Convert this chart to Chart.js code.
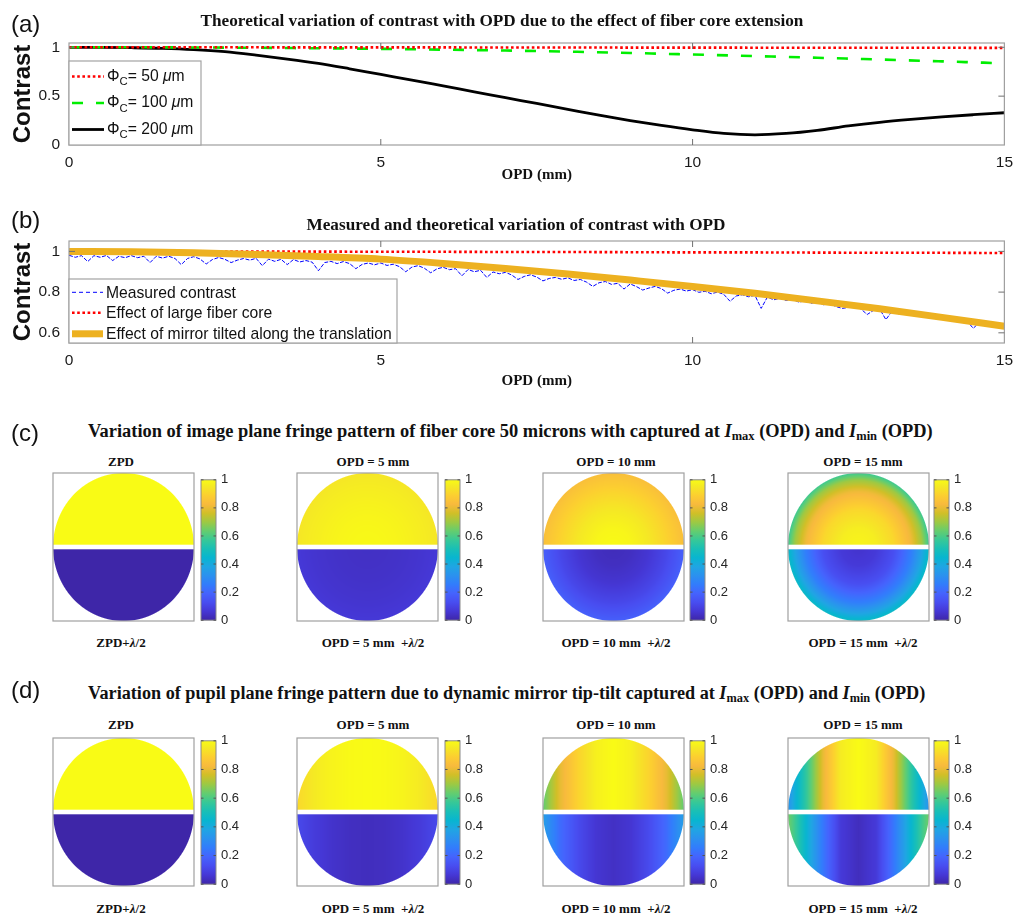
<!DOCTYPE html>
<html>
<head>
<meta charset="utf-8">
<title>Contrast variation with OPD</title>
<script src="https://cdn.jsdelivr.net/npm/chart.js@4.4.1/dist/chart.umd.min.js"></script>
<style>
  html, body { margin: 0; padding: 0; background: #fff; }
  #fig { position: relative; width: 1021px; height: 915px; overflow: hidden; background: #fff; }
  #fig canvas { position: absolute; }
  .tag { position: absolute; font-family: Arial, "Liberation Sans", sans-serif; font-size: 24px; line-height: 1; color: #111; transform: translateY(-50%); white-space: nowrap; }
  .ttl { position: absolute; font-family: "Liberation Serif", "Times New Roman", serif; font-weight: bold; line-height: 1; color: #111; white-space: nowrap; }
  .ttl.mid { transform: translate(-50%, -50%); }
  .ttl.lft { transform: translateY(-50%); }
  .ttl sub { font-size: 0.68em; vertical-align: -0.28em; line-height: 0; }
  .cap { position: absolute; font-family: "Liberation Serif", "Times New Roman", serif; font-weight: bold; font-size: 13px; line-height: 1; color: #111; white-space: nowrap; transform: translate(-50%, -50%); }
</style>
</head>
<body>
<div id="fig"></div>
<script>
// ---------------- (a) theoretical contrast vs OPD for three fiber cores ----------------
const opdFine   = [0,0.5,1,1.5,2,2.5,3,3.5,4,4.5,5,5.5,6,6.5,7,7.5,8,8.5,9,9.5,10,10.5,11,11.5,12,12.5,13,13.5,14,14.5,15];
const opdCoarse = [0,1,2,3,4,5,6,7,8,9,10,11,12,13,14,15];
const coreDiameters = [50, 100, 200];            // µm
const contrastCore50  = [1.000,1.000,1.000,1.000,0.999,0.999,0.999,0.998,0.998,0.997,0.997,0.996,0.996,0.995,0.995,0.994];
const contrastCore100 = [1.000,1.000,0.998,0.995,0.990,0.984,0.976,0.967,0.956,0.942,0.926,0.910,0.893,0.875,0.856,0.836];
const contrastCore200 = [1.000,0.999,0.996,0.990,0.977,0.955,0.920,0.880,0.835,0.780,0.722,0.665,0.605,0.545,0.485,0.425,
                         0.365,0.305,0.250,0.200,0.155,0.118,0.104,0.118,0.150,0.195,0.232,0.262,0.288,0.310,0.330];

// ---------------- (b) measured and modelled contrast ----------------
const contrastLargeCore  = [1.000,1.000,0.999,0.999,0.999,0.998,0.998,0.997,0.997,0.996,0.995,0.995,0.994,0.993,0.993,0.992];
const contrastMirrorTilt = [1.000,0.998,0.993,0.985,0.975,0.962,0.941,0.916,0.889,0.859,0.828,0.794,0.757,0.718,0.676,0.632];
const measuredStep = 0.1;                          // mm between samples
const measuredContrast = [
  0.981,0.971,0.979,0.950,0.979,0.971,0.980,0.955,0.976,0.969,
  0.979,0.969,0.976,0.945,0.976,0.967,0.976,0.965,0.935,0.965,
  0.974,0.963,0.938,0.960,0.970,0.961,0.945,0.957,0.965,0.957,
  0.966,0.930,0.962,0.951,0.961,0.935,0.960,0.948,0.955,0.947,
  0.905,0.945,0.951,0.940,0.950,0.940,0.915,0.936,0.943,0.934,
  0.943,0.931,0.937,0.925,0.900,0.923,0.930,0.917,0.895,0.914,
  0.922,0.910,0.915,0.880,0.911,0.900,0.907,0.872,0.899,0.890,
  0.897,0.884,0.862,0.877,0.885,0.874,0.855,0.867,0.872,0.863,
  0.870,0.857,0.862,0.849,0.828,0.846,0.852,0.838,0.843,0.815,
  0.840,0.827,0.810,0.820,0.828,0.817,0.795,0.809,0.815,0.805,
  0.812,0.799,0.804,0.792,0.800,0.789,0.755,0.781,0.787,0.777,
  0.784,0.720,0.776,0.762,0.770,0.759,0.765,0.751,0.756,0.745,
  0.752,0.738,0.743,0.729,0.720,0.725,0.731,0.717,0.690,0.710,
  0.717,0.665,0.707,0.693,0.700,0.688,0.693,0.678,0.682,0.671,
  0.677,0.663,0.666,0.652,0.659,0.622,0.651,0.636,0.640,0.628,
  0.626
];

// axis tick values
const opdTicks = [0, 5, 10, 15];
const contrastTicksA = [0, 0.5, 1];
const contrastTicksB = [0.6, 0.8, 1];
const colorbarTicks = [0, 0.2, 0.4, 0.6, 0.8, 1];

// ---------------- (c)/(d) fringe images ----------------
const opdSettings = ['ZPD', 'OPD = 5 mm', 'OPD = 10 mm', 'OPD = 15 mm'];
const profileKnots = [0, 0.25, 0.5, 0.75, 0.9, 1];  // radius (c) or |x| across the pupil (d)
// image plane: intensity vs radius, I_max half and I_min half
const imagePlaneMax = [
  [1, 1, 1, 1, 1, 1],
  [0.995, 0.99, 0.98, 0.965, 0.955, 0.945],
  [1.0, 0.985, 0.95, 0.90, 0.865, 0.84],
  [0.985, 0.965, 0.91, 0.81, 0.70, 0.58]
];
const imagePlaneMin = [
  [0, 0, 0, 0, 0, 0],
  [0.04, 0.042, 0.047, 0.055, 0.062, 0.068],
  [0.025, 0.035, 0.06, 0.11, 0.15, 0.18],
  [0.05, 0.07, 0.13, 0.26, 0.38, 0.47]
];
// pupil plane: intensity vs horizontal position
const pupilPlaneMax = [
  [1, 1, 1, 1, 1, 1],
  [1.0, 0.995, 0.98, 0.955, 0.93, 0.91],
  [1.0, 0.97, 0.90, 0.80, 0.70, 0.63],
  [1.0, 0.96, 0.80, 0.55, 0.42, 0.32]
];
const pupilPlaneMin = [
  [0, 0, 0, 0, 0, 0],
  [0.03, 0.035, 0.05, 0.075, 0.10, 0.115],
  [0.04, 0.06, 0.12, 0.21, 0.30, 0.36],
  [0.03, 0.07, 0.24, 0.45, 0.58, 0.65]
];

// parula colormap (subset of the 64-entry table)
const parulaIndex = [0, 4, 8, 12, 16, 20, 24, 28, 32, 36, 40, 44, 48, 52, 56, 60, 63];
const parulaRGB = [
  [62,38,168],[69,55,213],[72,77,240],[69,99,253],[50,124,252],[43,145,239],[32,165,227],[8,181,208],
  [25,191,182],[55,200,151],[100,205,111],[157,201,67],[209,191,39],[248,186,61],[252,207,48],[245,233,36],[249,251,21]
];

// ======================================================================
const FONT_SANS = 'Arial, "Liberation Sans", sans-serif';
const FONT_SERIF = '"Liberation Serif", "Times New Roman", serif';
Chart.defaults.font.family = FONT_SANS;
Chart.defaults.color = '#1a1a1a';
Chart.defaults.elements.point.radius = 0;

const fig = document.getElementById('fig');

function addCanvas(left, top, w, h) {
  const c = document.createElement('canvas');
  c.width = w; c.height = h;
  c.style.left = left + 'px'; c.style.top = top + 'px';
  c.style.width = w + 'px'; c.style.height = h + 'px';
  fig.appendChild(c);
  return c;
}
function addText(cls, html, x, y, size) {
  const d = document.createElement('div');
  d.className = cls;
  d.innerHTML = html;
  d.style.left = x + 'px';
  d.style.top = y + 'px';
  if (size) d.style.fontSize = size + 'px';
  fig.appendChild(d);
  return d;
}
const pairs = (xs, ys) => xs.map((x, i) => ({ x, y: ys[i] }));
const fixedTicks = values => scale => { scale.ticks = values.map(v => ({ value: v })); };
const tickText = v => String(v);
const clamp01 = v => Math.max(0, Math.min(1, v));

function parula(v) {
  v = clamp01(v);
  for (let i = 1; i < parulaIndex.length; i++) {
    const p0 = parulaIndex[i - 1] / 63, p1 = parulaIndex[i] / 63;
    if (v <= p1) {
      const t = (v - p0) / (p1 - p0);
      const a = parulaRGB[i - 1], b = parulaRGB[i];
      return [a[0] + (b[0] - a[0]) * t, a[1] + (b[1] - a[1]) * t, a[2] + (b[2] - a[2]) * t];
    }
  }
  return parulaRGB[parulaRGB.length - 1];
}
function profileAt(prof, s) {
  s = Math.min(Math.max(s, 0), 1);
  for (let i = 1; i < profileKnots.length; i++) {
    if (s <= profileKnots[i]) {
      const t = (s - profileKnots[i - 1]) / (profileKnots[i] - profileKnots[i - 1]);
      return prof[i - 1] + (prof[i] - prof[i - 1]) * t;
    }
  }
  return prof[prof.length - 1];
}

// rich text (sub-scripts / italics) for legend entries
function drawRich(ctx, parts, x, y, size) {
  ctx.save();
  ctx.fillStyle = '#111';
  ctx.textBaseline = 'alphabetic';
  const base = y + size * 0.36;
  parts.forEach(p => {
    const s = p.sub ? size * 0.72 : size;
    ctx.font = (p.italic ? 'italic ' : '') + s + 'px ' + FONT_SANS;
    ctx.fillText(p.t, x, base + (p.sub ? size * 0.3 : 0));
    x += ctx.measureText(p.t).width;
  });
  ctx.restore();
}
const coreLabel = d => [{ t: 'Φ' }, { t: 'C', sub: true }, { t: '= ' + d + ' ' }, { t: 'μ', italic: true }, { t: 'm' }];

// box around the plot area with inward tick marks
const axesBox = {
  id: 'axesBox',
  afterDatasetsDraw(chart) {
    const { ctx, chartArea: a, scales } = chart;
    ctx.save();
    ctx.strokeStyle = '#9f9f9f';
    ctx.lineWidth = 1.2;
    ctx.strokeRect(a.left, a.top, a.right - a.left, a.bottom - a.top);
    ctx.strokeStyle = '#707070';
    ctx.lineWidth = 1;
    ctx.beginPath();
    scales.x.ticks.forEach(t => {
      const p = scales.x.getPixelForValue(t.value);
      if (p <= a.left + 1 || p >= a.right - 1) return;
      ctx.moveTo(p, a.bottom); ctx.lineTo(p, a.bottom - 6);
      ctx.moveTo(p, a.top); ctx.lineTo(p, a.top + 6);
    });
    scales.y.ticks.forEach(t => {
      const p = scales.y.getPixelForValue(t.value);
      if (p <= a.top + 1 || p >= a.bottom - 1) return;
      ctx.moveTo(a.left, p); ctx.lineTo(a.left + 6, p);
      ctx.moveTo(a.right, p); ctx.lineTo(a.right - 6, p);
    });
    ctx.stroke();
    ctx.restore();
  }
};

function makeInsetLegend(cfg) {
  return {
    id: 'insetLegend',
    afterDraw(chart) {
      const { ctx, chartArea: a } = chart;
      const x0 = a.left, y0 = a.top + cfg.dy, h = a.bottom - y0;
      ctx.save();
      ctx.fillStyle = '#ffffff';
      ctx.fillRect(x0, y0, cfg.width, h);
      ctx.strokeStyle = '#a3a3a3';
      ctx.lineWidth = 1.2;
      ctx.strokeRect(x0, y0, cfg.width, h);
      chart.data.datasets.forEach((ds, k) => {
        const yRow = y0 + cfg.rows[k];
        ctx.save();
        ctx.strokeStyle = ds.borderColor;
        ctx.lineWidth = ds.borderWidth;
        ctx.setLineDash(ds.legendDash || ds.borderDash || []);
        ctx.beginPath();
        ctx.moveTo(x0 + cfg.lineFrom, yRow + cfg.lineDy);
        ctx.lineTo(x0 + cfg.lineTo, yRow + cfg.lineDy);
        ctx.stroke();
        ctx.restore();
        drawRich(ctx, ds.parts, x0 + cfg.textX, yRow, cfg.fontSize);
      });
      ctx.restore();
    }
  };
}

function lineOptions(cfg) {
  return {
    responsive: false, animation: false, devicePixelRatio: 1, events: [],
    layout: { padding: { left: 0, right: 12, top: cfg.top, bottom: 0 } },
    plugins: { legend: { display: false }, tooltip: { enabled: false } },
    scales: {
      x: {
        type: 'linear', bounds: 'data', min: 0, max: 15,
        afterBuildTicks: fixedTicks(opdTicks),
        afterFit: s => { s.height = cfg.xAxisHeight; },
        ticks: { autoSkip: false, maxRotation: 0, padding: 8, callback: tickText, color: '#1a1a1a', font: { size: 15.5 } },
        grid: { display: false, drawTicks: false }, border: { display: false },
        title: { display: true, text: 'OPD (mm)', color: '#111', font: { family: FONT_SERIF, size: 15, weight: 'bold' }, padding: { top: 0, bottom: cfg.xTitlePad } }
      },
      y: {
        type: 'linear', bounds: 'data', min: cfg.yMin, max: cfg.yMax,
        afterBuildTicks: fixedTicks(cfg.yTicks),
        afterFit: s => { s.width = 69; },
        ticks: { autoSkip: false, padding: 9, callback: tickText, color: '#1a1a1a', font: { size: 15.5 } },
        grid: { display: false, drawTicks: false }, border: { display: false },
        title: { display: true, text: 'Contrast', color: '#111', font: { family: FONT_SANS, size: 24, weight: 'bold' }, padding: { top: 9, bottom: 0 } }
      }
    }
  };
}

// ---------------- chart (a) ----------------
new Chart(addCanvas(0, 0, 1021, 190), {
  type: 'line',
  data: {
    datasets: [
      { label: 'ΦC= 50 μm', parts: coreLabel(coreDiameters[0]), data: pairs(opdCoarse, contrastCore50),
        borderColor: '#ff0000', borderWidth: 2.6, borderDash: [2.6, 2.6], order: 0 },
      { label: 'ΦC= 100 μm', parts: coreLabel(coreDiameters[1]), data: pairs(opdCoarse, contrastCore100),
        borderColor: '#00ee00', borderWidth: 2.6, borderDash: [11, 13], order: 1, cubicInterpolationMode: 'monotone' },
      { label: 'ΦC= 200 μm', parts: coreLabel(coreDiameters[2]), data: pairs(opdFine, contrastCore200),
        borderColor: '#000000', borderWidth: 2.8, order: 2, cubicInterpolationMode: 'monotone' }
    ]
  },
  options: lineOptions({ top: 43, xAxisHeight: 45, xTitlePad: 5.5, yMin: 0, yMax: 1.044, yTicks: contrastTicksA }),
  plugins: [axesBox, makeInsetLegend({ dy: 18, width: 132, rows: [14, 40.5, 67], lineDy: 1.5, lineFrom: 3, lineTo: 35, textX: 38, fontSize: 15.7 })]
});

// ---------------- chart (b) ----------------
new Chart(addCanvas(0, 195, 1021, 200), {
  type: 'line',
  data: {
    datasets: [
      { label: 'Measured contrast', parts: [{ t: 'Measured contrast' }],
        data: measuredContrast.map((v, i) => ({ x: i * measuredStep, y: v })),
        borderColor: '#0000ff', borderWidth: 1, borderDash: [4, 1.5], legendDash: [4, 3], borderJoinStyle: 'bevel', order: 2 },
      { label: 'Effect of large fiber core', parts: [{ t: 'Effect of large fiber core' }], data: pairs(opdCoarse, contrastLargeCore),
        borderColor: '#ff0000', borderWidth: 2.6, borderDash: [2.6, 2.6], order: 1 },
      { label: 'Effect of mirror tilted along the translation', parts: [{ t: 'Effect of mirror tilted along the translation' }],
        data: pairs(opdCoarse, contrastMirrorTilt),
        borderColor: '#edb120', borderWidth: 7, order: 0, cubicInterpolationMode: 'monotone' }
    ]
  },
  options: lineOptions({ top: 46, xAxisHeight: 52, xTitlePad: 5, yMin: 0.55, yMax: 1.051, yTicks: contrastTicksB }),
  plugins: [axesBox, makeInsetLegend({ dy: 38, width: 328, rows: [13, 33.5, 54.5], lineDy: 0.3, lineFrom: 3, lineTo: 34, textX: 37, fontSize: 15.7 })]
});

// ---------------- fringe images + colorbars ----------------
function makeFringe(bright, dark, mode) {
  return {
    id: 'fringe',
    beforeDatasetsDraw(chart) {
      const { ctx, chartArea: a, scales: { x, y } } = chart;
      const L = Math.round(a.left), T = Math.round(a.top);
      const W = Math.round(a.right) - L, H = Math.round(a.bottom) - T;
      const img = ctx.createImageData(W, H);
      const pxX = Math.abs(x.getPixelForValue(1) - x.getPixelForValue(0));
      const pxY = Math.abs(y.getPixelForValue(1) - y.getPixelForValue(0));
      const gap = 2.3 / pxY;
      for (let j = 0; j < H; j++) {
        const yv = y.getValueForPixel(T + j + 0.5);
        for (let i = 0; i < W; i++) {
          const xv = x.getValueForPixel(L + i + 0.5);
          const rr = Math.hypot(xv, yv);
          const cov = Math.min(clamp01((1 - rr) * Math.min(pxX, pxY) + 0.5),
                               clamp01((Math.abs(yv) - gap) * pxY + 0.5));
          let r = 255, g = 255, b = 255;
          if (cov > 0) {
            const s = mode === 'radial' ? rr : Math.abs(xv);
            const c = parula(profileAt(yv > 0 ? bright : dark, s));
            r = 255 + (c[0] - 255) * cov; g = 255 + (c[1] - 255) * cov; b = 255 + (c[2] - 255) * cov;
          }
          const k = (j * W + i) * 4;
          img.data[k] = r; img.data[k + 1] = g; img.data[k + 2] = b; img.data[k + 3] = 255;
        }
      }
      ctx.putImageData(img, L, T);
    },
    afterDraw(chart) {
      const { ctx, chartArea: a } = chart;
      ctx.save();
      ctx.strokeStyle = '#a0a0a0';
      ctx.lineWidth = 1.2;
      ctx.strokeRect(a.left, a.top, a.right - a.left, a.bottom - a.top);
      ctx.restore();
    }
  };
}

const colorbarFill = {
  id: 'colorbarFill',
  beforeDatasetsDraw(chart) {
    const { ctx, chartArea: a, scales: { y } } = chart;
    const g = ctx.createLinearGradient(0, y.getPixelForValue(0), 0, y.getPixelForValue(1));
    parulaIndex.forEach((p, i) => g.addColorStop(p / 63, 'rgb(' + parulaRGB[i].join(',') + ')'));
    ctx.fillStyle = g;
    ctx.fillRect(a.left, a.top, a.right - a.left, a.bottom - a.top);
  },
  afterDraw(chart) {
    const { ctx, chartArea: a, scales: { y } } = chart;
    ctx.save();
    ctx.strokeStyle = '#8a8a8a';
    ctx.lineWidth = 1;
    ctx.strokeRect(a.left, a.top, a.right - a.left, a.bottom - a.top);
    ctx.strokeStyle = '#555';
    ctx.beginPath();
    y.ticks.forEach(t => {
      const p = y.getPixelForValue(t.value);
      ctx.moveTo(a.right, p); ctx.lineTo(a.right - 2.5, p);
      ctx.moveTo(a.left, p); ctx.lineTo(a.left + 2.5, p);
    });
    ctx.stroke();
    ctx.restore();
  }
};

const tileLeft = [53, 297, 543, 788];
const colorbarLeft = [201, 445, 690, 934];
const captionX = [121, 373, 616, 863];
const tileW = 141, tileH = 148, cbW = 15;
const fringeRows = [
  { mode: 'radial', bright: imagePlaneMax, dark: imagePlaneMin, boxTop: 473, cbTop: 476, cbH: 148, capTop: 461, capBottom: 642 },
  { mode: 'across', bright: pupilPlaneMax, dark: pupilPlaneMin, boxTop: 738, cbTop: 737, cbH: 151, capTop: 724, capBottom: 908 }
];

fringeRows.forEach(row => {
  opdSettings.forEach((name, i) => {
    new Chart(addCanvas(tileLeft[i] - 1, row.boxTop - 1, tileW + 2, tileH + 2), {
      type: 'scatter',
      data: { datasets: [] },
      options: {
        responsive: false, animation: false, devicePixelRatio: 1, events: [],
        layout: { padding: 1 },
        plugins: { legend: { display: false }, tooltip: { enabled: false } },
        scales: { x: { type: 'linear', min: -1, max: 1, display: false }, y: { type: 'linear', min: -1, max: 1, display: false } }
      },
      plugins: [makeFringe(row.bright[i], row.dark[i], row.mode)]
    });
    new Chart(addCanvas(colorbarLeft[i] - 1, row.cbTop - 9, 1 + cbW + 38, row.cbH + 18), {
      type: 'scatter',
      data: { datasets: [] },
      options: {
        responsive: false, animation: false, devicePixelRatio: 1, events: [],
        layout: { padding: { left: 1, right: 0, top: 9, bottom: 9 } },
        plugins: { legend: { display: false }, tooltip: { enabled: false } },
        scales: {
          x: { type: 'linear', min: 0, max: 1, display: false },
          y: {
            type: 'linear', position: 'right', bounds: 'data', min: 0, max: 1,
            afterBuildTicks: fixedTicks(colorbarTicks),
            afterFit: s => { s.width = 38; },
            ticks: { autoSkip: false, padding: 5, callback: tickText, color: '#262626', font: { size: 13 } },
            grid: { display: false, drawTicks: false }, border: { display: false }
          }
        }
      },
      plugins: [colorbarFill]
    });
    addText('cap', name, captionX[i], row.capTop);
    addText('cap', name + (i ? '&nbsp; ' : '') + '+<i>λ</i>/2', captionX[i], row.capBottom);
  });
});

// ---------------- panel labels and titles ----------------
addText('tag', '(a)', 11, 24);
addText('tag', '(b)', 11, 220);
addText('tag', '(c)', 11, 433);
addText('tag', '(d)', 11, 690);
addText('ttl mid', 'Theoretical variation of contrast with OPD due to the effect of fiber core extension', 502, 21, 17.2);
addText('ttl mid', 'Measured and theoretical variation of contrast with OPD', 516, 225, 17.2);
addText('ttl lft', 'Variation of image plane fringe pattern of fiber core 50 microns with captured at <i>I</i><sub>max</sub> (OPD) and <i>I</i><sub>min</sub> (OPD)', 88, 431, 18.4);
addText('ttl lft', 'Variation of pupil plane fringe pattern due to dynamic mirror tip-tilt captured at <i>I</i><sub>max</sub> (OPD) and <i>I</i><sub>min</sub> (OPD)', 88, 693, 18.2);
</script>
</body>
</html>
